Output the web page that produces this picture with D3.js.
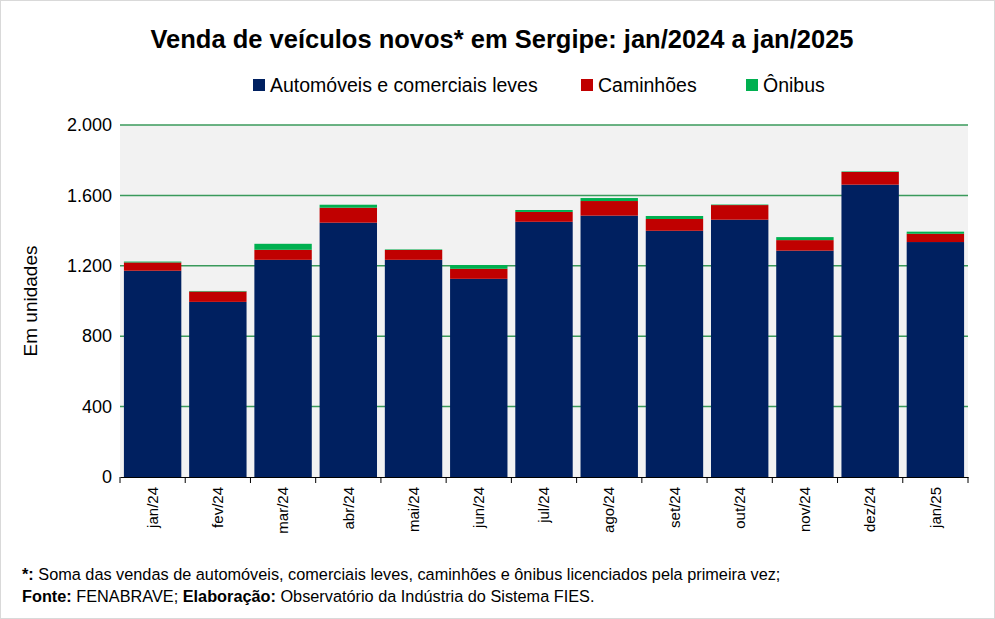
<!DOCTYPE html>
<html><head><meta charset="utf-8">
<script src="https://cdn.jsdelivr.net/npm/d3@7"></script>
<style>body{margin:0;background:#fff}svg{font-family:"Liberation Sans",Arial,sans-serif}</style>
</head><body><svg id="c" width="995" height="619"></svg>
<script>
const months = ['jan/24','fev/24','mar/24','abr/24','mai/24','jun/24','jul/24','ago/24','set/24','out/24','nov/24','dez/24','jan/25'];
const autos = [1172,995,1234,1445,1234,1126,1450,1485,1399,1462,1286,1661,1335];
const caminhoes = [47,59,57,85,56,57,56,83,67,83,60,72,47];
const onibus = [5,3,34,17,3,21,11,17,17,3,17,3,12];
const yTicks = [0,400,800,1200,1600,2000];
const seriesNames = ['Automóveis e comerciais leves','Caminhões','Ônibus'];
const colors = ['#002060','#c00000','#00b050'];

const margin = {top:125, right:27, bottom:142, left:120};
const width = 995, height = 619;
const svg = d3.select('#c');
svg.append('rect').attr('x',0.5).attr('y',0.5).attr('width',width-1).attr('height',height-1).attr('fill','#fff').attr('stroke','#d9d9d9');

const x = d3.scaleBand().domain(months).range([margin.left, width-margin.right]).paddingInner(0.12).paddingOuter(0.06);
const y = d3.scaleLinear().domain([0,2000]).range([height-margin.bottom, margin.top]);
const fmt = d => d3.format(',')(d).replace(/,/g,'.');

svg.append('rect').attr('x',margin.left).attr('y',margin.top)
  .attr('width',width-margin.right-margin.left).attr('height',y(0)-margin.top).attr('fill','#f2f2f2');

svg.append('g').selectAll('line').data(yTicks.filter(d=>d>0)).join('line')
  .attr('x1',margin.left).attr('x2',width-margin.right)
  .attr('y1',d=>y(d)).attr('y2',d=>y(d)).attr('stroke','#3a9a5b').attr('stroke-width',1.5);

const data = months.map((m,i)=>({m, a:autos[i], c:caminhoes[i], o:onibus[i]}));
const stack = d3.stack().keys(['a','c','o'])(data);
svg.append('g').selectAll('g').data(stack).join('g').attr('fill',(d,i)=>colors[i])
  .selectAll('rect').data(d=>d).join('rect')
  .attr('x',d=>x(d.data.m)).attr('width',x.bandwidth())
  .attr('y',d=>y(d[1])).attr('height',d=>y(d[0])-y(d[1]));

const yAxis = svg.append('g').attr('transform',`translate(${margin.left},0)`)
  .call(d3.axisLeft(y).tickValues(yTicks).tickFormat(fmt).tickSize(0).tickPadding(8));
yAxis.select('.domain').remove();
yAxis.selectAll('text').attr('font-size',18).attr('fill','#000');

const xAxis = svg.append('g').attr('transform',`translate(0,${y(0)})`)
  .call(d3.axisBottom(x).tickSize(0));
xAxis.select('.domain').attr('stroke','#000');
xAxis.selectAll('text').attr('font-size',15).attr('fill','#000')
  .attr('transform','rotate(-90)').attr('text-anchor','end').attr('dx','-10').attr('dy','0.35em')
  .attr('x',0).attr('y',0);
svg.append('g').selectAll('line').data(d3.range(months.length+1)).join('line')
  .attr('x1',i=>margin.left+i*(width-margin.right-margin.left)/months.length)
  .attr('x2',i=>margin.left+i*(width-margin.right-margin.left)/months.length)
  .attr('y1',y(0)).attr('y2',y(0)+6).attr('stroke','#000');

svg.append('text').attr('x',502).attr('y',48).attr('text-anchor','middle')
  .attr('font-size',25.5).attr('font-weight','bold').text('Venda de veículos novos* em Sergipe: jan/2024 a jan/2025');
svg.append('text').attr('transform',`translate(37,${(margin.top+y(0))/2}) rotate(-90)`)
  .attr('text-anchor','middle').attr('font-size',19).text('Em unidades');

const legX = [253,581,746];
const leg = svg.append('g').selectAll('g').data(seriesNames).join('g')
  .attr('transform',(d,i)=>`translate(${legX[i]},85)`);
leg.append('rect').attr('y',-6).attr('width',12).attr('height',12).attr('fill',(d,i)=>colors[i]);
leg.append('text').attr('x',17).attr('dy','0.35em').attr('font-size',19.5).text(d=>d);

const foot = svg.append('g').attr('font-size',16.3);
const t1 = foot.append('text').attr('x',22).attr('y',580);
t1.append('tspan').attr('font-weight','bold').text('*:');
t1.append('tspan').text(' Soma das vendas de automóveis, comerciais leves, caminhões e ônibus licenciados pela primeira vez;');
const t2 = foot.append('text').attr('x',22).attr('y',602);
t2.append('tspan').attr('font-weight','bold').text('Fonte:');
t2.append('tspan').text(' FENABRAVE; ');
t2.append('tspan').attr('font-weight','bold').text('Elaboração:');
t2.append('tspan').text(' Observatório da Indústria do Sistema FIES.');
</script></body></html>
